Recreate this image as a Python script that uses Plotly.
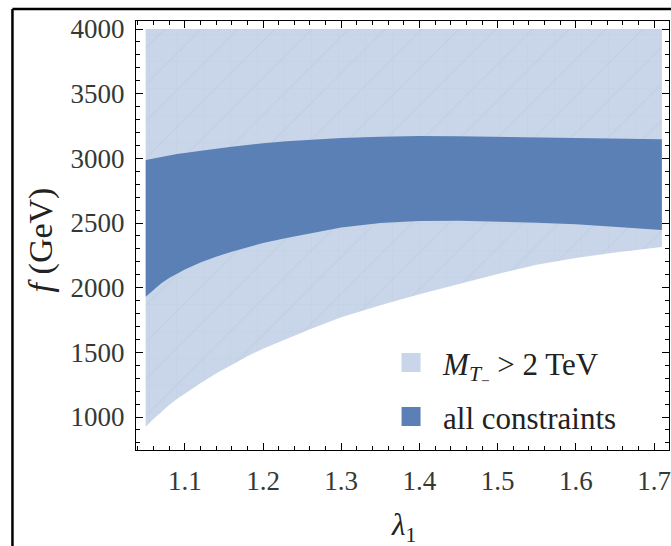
import plotly.graph_objects as go

# λ1 sample points
lam = [1.05, 1.06, 1.07, 1.08, 1.09, 1.10, 1.12, 1.14, 1.16, 1.18, 1.20, 1.23, 1.26,
       1.30, 1.35, 1.40, 1.45, 1.50, 1.55, 1.60, 1.65, 1.71]
# M_T- > 2 TeV region: lower boundary; upper bound of the scan
f_max = 4000
light_lower = [925, 985, 1040, 1092, 1140, 1185, 1262, 1336, 1405, 1470, 1528, 1605, 1678,
               1772, 1865, 1950, 2030, 2105, 2178, 2230, 2272, 2315]
# all constraints band
dark_lower = [1930, 1985, 2035, 2075, 2110, 2140, 2195, 2240, 2278, 2312, 2345, 2385, 2420,
              2465, 2500, 2515, 2518, 2512, 2503, 2490, 2472, 2446]
dark_upper = [2987, 3000, 3012, 3023, 3033, 3042, 3060, 3075, 3090, 3105, 3117, 3132, 3144,
              3157, 3167, 3172, 3171, 3166, 3162, 3157, 3153, 3148]

x_ticks = [1.1, 1.2, 1.3, 1.4, 1.5, 1.6, 1.7]
y_ticks = [1000, 1500, 2000, 2500, 3000, 3500, 4000]

LIGHT = "#c9d6e9"
DARK = "#5b80b6"
SERIF = "Liberation Serif, Times New Roman, Times, DejaVu Serif, serif"

fig = go.Figure()

light_x = lam + lam[::-1]
light_y = [f_max] * len(lam) + light_lower[::-1]

fig.add_trace(go.Scatter(
    x=light_x, y=light_y,
    fill="toself", fillcolor=LIGHT, mode="lines", line=dict(width=0),
    fillpattern=dict(shape="/", size=26, solidity=0.04, fgcolor="#b8c7dd", bgcolor=LIGHT),
    showlegend=False, hoverinfo="skip"))
# faint mesh of the region
fig.add_trace(go.Scatter(
    x=light_x, y=light_y,
    fill="toself", fillcolor="rgba(0,0,0,0)", mode="lines", line=dict(width=0),
    fillpattern=dict(shape="+", size=27, solidity=0.03, fgcolor="#bccade", bgcolor="rgba(0,0,0,0)"),
    showlegend=False, hoverinfo="skip"))

fig.add_trace(go.Scatter(
    x=lam + lam[::-1], y=dark_upper + dark_lower[::-1],
    fill="toself", fillcolor=DARK, mode="lines", line=dict(width=0),
    showlegend=False, hoverinfo="skip"))

# legend entries
fig.add_trace(go.Scatter(
    x=[None], y=[None], mode="markers",
    marker=dict(symbol="square", size=16, color=LIGHT, line=dict(width=3, color=LIGHT)),
    name="<i>M</i><sub><i>T</i><sub>−</sub></sub> > 2 TeV", legend="legend"))
fig.add_trace(go.Scatter(
    x=[None], y=[None], mode="markers",
    marker=dict(symbol="square", size=16, color=DARK, line=dict(width=3, color=DARK)),
    name="all constraints", legend="legend2"))

axis_common = dict(
    showgrid=False, zeroline=False, showline=True, linecolor="black", linewidth=1.3,
    mirror="ticks", ticks="inside", ticklen=7, tickwidth=1.2, tickcolor="black",
    tickfont=dict(family=SERIF, size=27, color="#333a35"),
    ticklabeloverflow="allow",
)

fig.update_xaxes(range=[1.0376, 1.7191], tickvals=x_ticks, ticktext=[f"{v:.1f}" for v in x_ticks],
                 ticklabelstandoff=6,
                 minor=dict(ticks="inside", ticklen=4, tickwidth=1, tickcolor="black", dtick=0.02, showgrid=False),
                 **axis_common)
fig.update_yaxes(range=[745, 4062], tickvals=y_ticks, ticktext=[str(v) for v in y_ticks],
                 ticklabelstandoff=5,
                 minor=dict(ticks="inside", ticklen=4, tickwidth=1, tickcolor="black", dtick=100, showgrid=False),
                 **axis_common)

leg_common = dict(font=dict(family=SERIF, size=31, color="#222222"), bgcolor="rgba(0,0,0,0)",
                  xanchor="left", yanchor="middle", borderwidth=0, itemwidth=54)
fig.update_layout(
    width=671, height=546,
    margin=dict(l=136, r=0, t=21, b=96),
    paper_bgcolor="white", plot_bgcolor="white",
    font=dict(family=SERIF),
    legend=dict(x=0.456, y=0.203, **leg_common),
    legend2=dict(x=0.456, y=0.077, **leg_common),
    annotations=[
        dict(text="<i>f</i> (GeV)", xref="paper", yref="paper", x=-0.179, y=0.49,
             xanchor="center", yanchor="middle",
             textangle=-90, showarrow=False, font=dict(family=SERIF, size=34, color="#222222")),
        dict(text="<i>λ</i><sub>1</sub>", xref="paper", yref="paper", x=0.502, y=-0.18,
             xanchor="center", yanchor="middle",
             showarrow=False, font=dict(family=SERIF, size=31, color="#222222")),
    ],
    shapes=[
        dict(type="line", xref="paper", yref="paper", x0=-0.2318, x1=-0.2318, y0=1.028, y1=-0.3,
             line=dict(color="black", width=2.5)),
        dict(type="line", xref="paper", yref="paper", x0=-0.2318, x1=1.05, y0=1.028, y1=1.028,
             line=dict(color="black", width=2.5)),
    ],
)

fig.write_html("out.html")
